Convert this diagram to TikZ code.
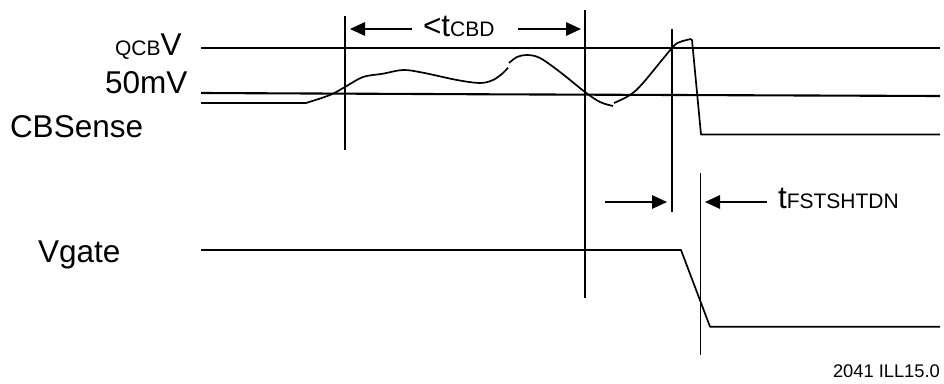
\documentclass[tikz,border=0pt]{standalone}
\usepackage{fontspec}
\setmainfont{Liberation Sans}
\usetikzlibrary{arrows.meta}
\newcommand{\fsz}[1]{\fontsize{#1}{#1}\selectfont}
\tikzset{
  lbl/.style={anchor=base west,inner sep=0pt,outer sep=0pt,text=black},
  rail/.style={line width=2.1pt,black},
  trace/.style={line width=1.7pt,black,line join=round},
  mark line/.style={line width=1.5pt,black},
  dim/.style={line width=1.5pt,black,-{Triangle[length=15pt,width=13.5pt]}},
  big/.style={font=\fsz{31.5}}
}
\begin{document}
\begin{tikzpicture}[x=1pt,y=-1pt]
\useasboundingbox (0,0) rectangle (944,383);
% rails
\draw[rail] (201,48) -- (940,48);
\draw[rail] (201,93) -- (490,94.3) -- (940,96);
% CBSense trace
\draw[trace] (201,103) -- (306,103);
\draw[trace] plot[smooth,tension=0.55] coordinates {(306,103) (330,95) (345,87) (363,77) (383,73.7) (403,70) (423,72.7) (457,80) (480,83) (493,80) (503,73) (508,67.7)};
\draw[trace] plot[smooth,tension=0.55] coordinates {(509,63) (517,57) (527,55) (540,58) (560,72) (585,92) (600,102) (613,106)};
\draw[trace] plot[smooth,tension=0.55] coordinates {(614,103) (630,95) (643,83) (672,48) (680,42) (691,39)};
\draw[trace] (691,39) -- (692,40) -- (701,134.5) -- (940,134.5);
% Vgate trace
\draw[trace] (201,250) -- (681,250) -- (710,326.7) -- (940,326.7);
% markers
\coordinate (m1t) at (345,16); \coordinate (m1b) at (345,150);
\coordinate (m2t) at (585,10); \coordinate (m2b) at (585,298);
\coordinate (m3t) at (672,29); \coordinate (m3b) at (672,212);
\coordinate (m4t) at (700.5,173); \coordinate (m4b) at (700.5,355);
\draw[mark line] (m1t) -- (m1b);
\draw[mark line] (m2t) -- (m2b);
\draw[mark line] (m3t) -- (m3b);
\draw[mark line] (m4t) -- (m4b);
% dimension arrows
\coordinate (a1s) at (412,29); \coordinate (a1e) at (350,29);
\coordinate (a2s) at (518,29); \coordinate (a2e) at (581,29);
\coordinate (a3s) at (604.5,202); \coordinate (a3e) at (667,202);
\coordinate (a4s) at (767,202); \coordinate (a4e) at (705,202);
\draw[dim] (a1s) -- (a1e);
\draw[dim] (a2s) -- (a2e);
\draw[dim] (a3s) -- (a3e);
\draw[dim] (a4s) -- (a4e);
% labels
\node[lbl] (qcb) at (115,55) {\fsz{21}QCB\fsz{31.5}V};
\node[lbl,big] (mv) at (105,93) {50mV};
\node[lbl,big] (cbs) at (10,137) {CBSense};
\node[lbl,big] (vg) at (38,262.5) {Vgate};
\node[lbl] (tcbd) at (423,36) {\fsz{31.5}<t\fsz{21}CBD};
\node[lbl] (tfst) at (778,208) {\fsz{31.5}t\fsz{21}FSTSHTDN};
\node[lbl,font=\fsz{18.3}] (ill) at (833,377) {2041 ILL15.0};
\end{tikzpicture}
\end{document}
